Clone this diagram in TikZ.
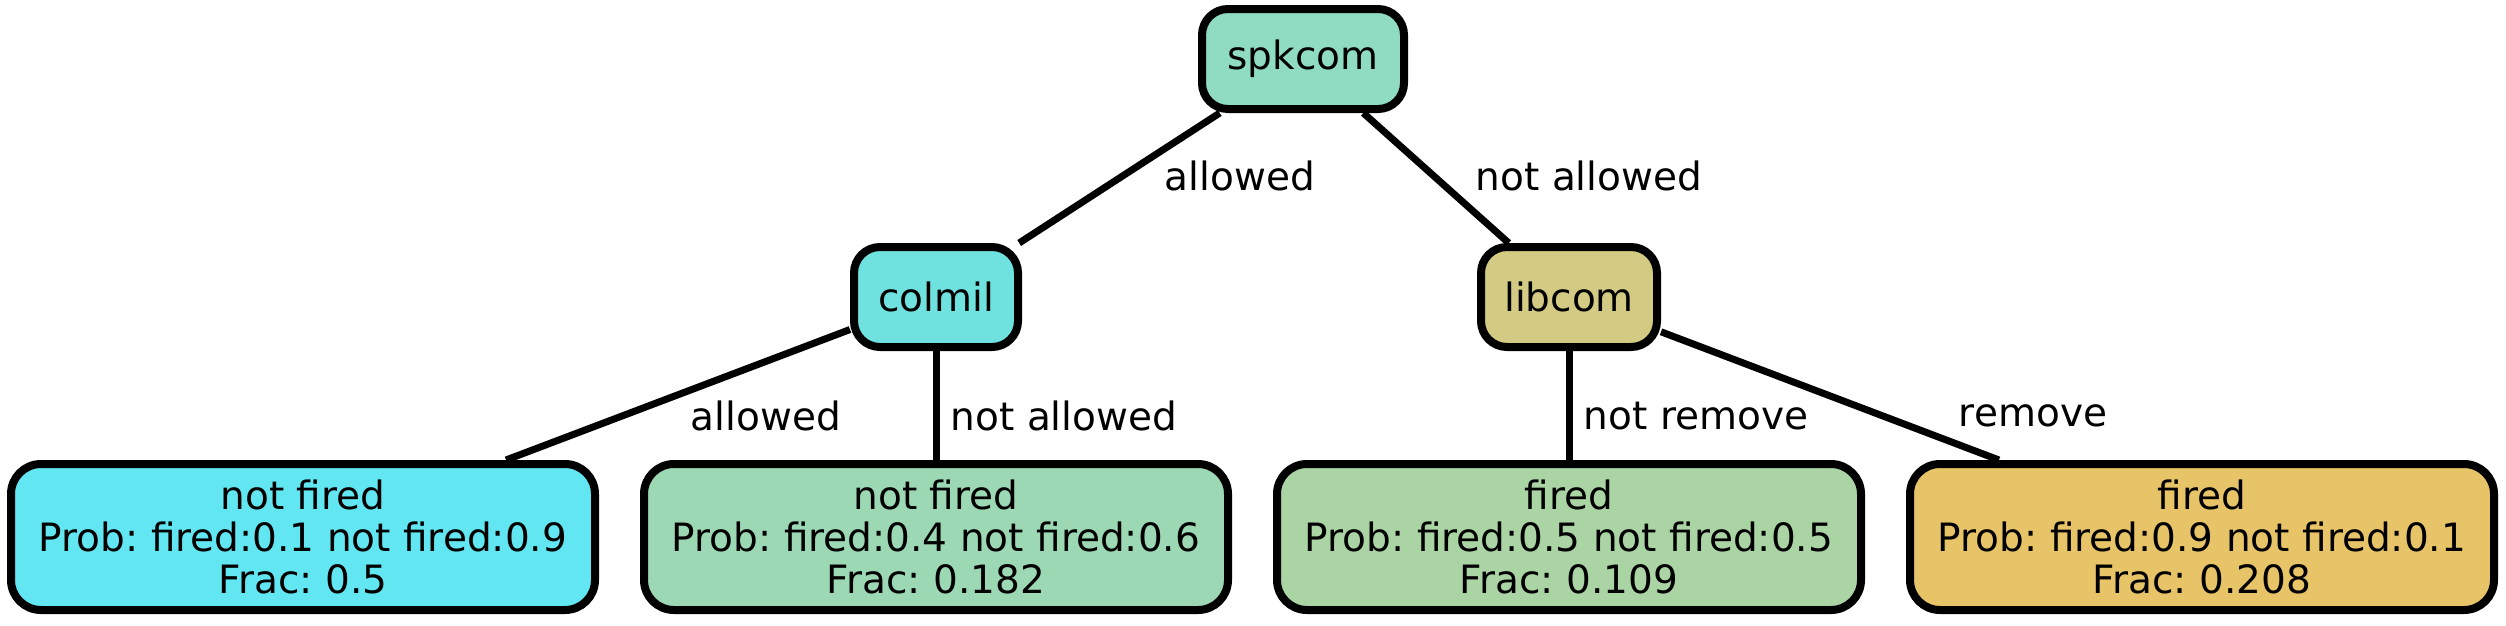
\documentclass[tikz,border=0pt]{standalone}
\usepackage{fontspec}
\setmainfont{DejaVu Sans}
\frenchspacing
\definecolor{cspk}{RGB}{143,220,195}
\definecolor{ccol}{RGB}{111,226,224}
\definecolor{clib}{RGB}{211,203,131}
\definecolor{cl1}{RGB}{98,230,242}
\definecolor{cl2}{RGB}{157,216,180}
\definecolor{cl3}{RGB}{171,212,165}
\definecolor{cl4}{RGB}{232,196,104}
\tikzset{
  inner/.style={draw=black, line width=8pt, rounded corners=26pt, inner sep=0pt, font=\fontsize{39}{41.6}\selectfont\frenchspacing},
  leaf/.style={draw=black, line width=8pt, rounded corners=30pt, inner sep=0pt, align=center, minimum width=584pt, minimum height=146pt, font=\fontsize{39}{41.6}\selectfont\frenchspacing},
  edge/.style={line width=7pt},
  elab/.style={font=\fontsize{39}{41.6}\selectfont, inner sep=0pt}
}
\begin{document}
\begin{tikzpicture}[x=1pt,y=-1pt]
\useasboundingbox (0,0) rectangle (2506,625);
\node[inner, fill=cspk, minimum width=202pt, minimum height=100pt] (spk) at (1303,59) {spkcom};
\node[inner, fill=ccol, minimum width=164pt, minimum height=100pt] (col) at (936,297) {colmil};
\node[inner, fill=clib, minimum width=176pt, minimum height=100pt] (lib) at (1569,297) {libcom};
\node[leaf, fill=cl1] (l1) at (303,537) {not fired\\Prob: fired:0.1 not fired:0.9\\Frac: 0.5};
\node[leaf, fill=cl2] (l2) at (936,537) {not fired\\Prob: fired:0.4 not fired:0.6\\Frac: 0.182};
\node[leaf, fill=cl3] (l3) at (1569,537) {fired\\Prob: fired:0.5 not fired:0.5\\Frac: 0.109};
\node[leaf, fill=cl4] (l4) at (2202,537) {fired\\Prob: fired:0.9 not fired:0.1\\Frac: 0.208};
\draw[edge] (spk) -- (col);
\draw[edge] (spk) -- (lib);
\draw[edge] (col) -- (l1);
\draw[edge] (col) -- (l2);
\draw[edge] (lib) -- (l3);
\draw[edge] (lib) -- (l4);
\node[elab] (e1) at (1240,176) {allowed};
\node[elab] (e2) at (1589,176) {not allowed};
\node[elab] (e3) at (766,416) {allowed};
\node[elab] (e4) at (1064,416) {not allowed};
\node[elab] (e5) at (1696,416) {not remove};
\node[elab] (e6) at (2033,416) {remove};
\end{tikzpicture}
\end{document}
